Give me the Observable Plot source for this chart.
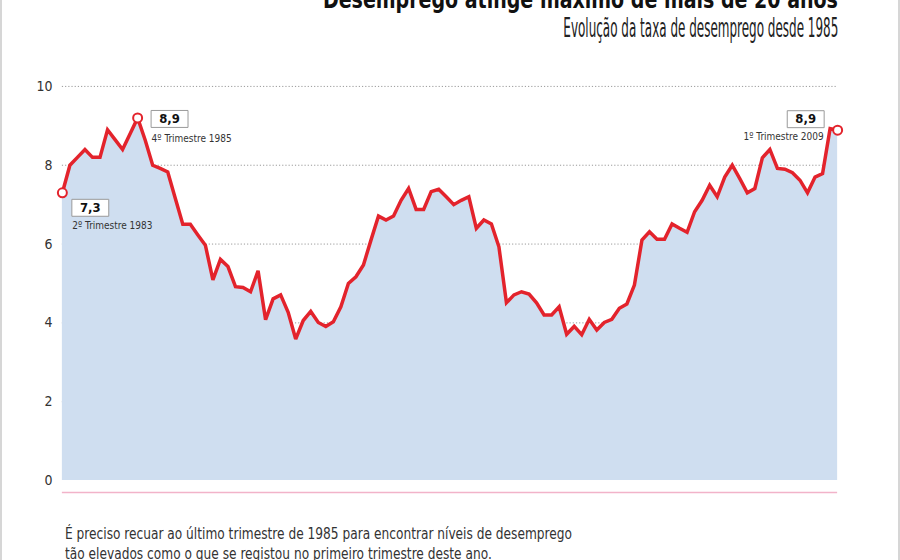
<!DOCTYPE html>
<html>
<head>
<meta charset="utf-8">
<script src="https://cdn.jsdelivr.net/npm/d3@7"></script>
<script src="https://cdn.jsdelivr.net/npm/@observablehq/plot@0.6"></script>
<style>
  html, body { margin: 0; padding: 0; background: #fff; }
  #page { position: relative; width: 900px; height: 560px; overflow: hidden; box-sizing: border-box;
          border-left: 2px solid #d6d6d6; border-right: 2px solid #d6d6d6; }
  .txt { position: absolute; white-space: nowrap; line-height: 1;
         font-family: 'Liberation Sans Narrow', 'DejaVu Sans Condensed', 'Roboto Condensed', sans-serif;
         font-stretch: condensed; }
  #title { right: 60px; top: -12px; font-size: 24px; font-weight: bold; color: #111; transform-origin: right top; }
  #subtitle { right: 60px; top: 14px; font-size: 27px; font-weight: normal; color: #222; transform-origin: right top; }
  .cap { left: 63px; font-size: 15px; color: #333; transform-origin: left top; }
  #cap1 { top: 527px; }
  #cap2 { top: 547px; }
  #chart { position: absolute; left: -2px; top: 50px; }
</style>
</head>
<body>
<div id="page">
  <div id="title" class="txt">Desemprego atinge máximo de mais de 20 anos</div>
  <div id="subtitle" class="txt">Evolução da taxa de desemprego desde 1985</div>
  <div id="chart"></div>
  <div id="cap1" class="txt cap">É preciso recuar ao último trimestre de 1985 para encontrar níveis de desemprego</div>
  <div id="cap2" class="txt cap">tão elevados como o que se registou no primeiro trimestre deste ano.</div>
</div>
<script>
// Quarterly unemployment rate (%), from 2º trimestre 1983 to 1º trimestre 2009
const startYear = 1983;
const startQuarter = 2;
const rate = [
  7.3, 8.0, 8.2, 8.4, 8.2, 8.2, 8.9, 8.65, 8.4, 8.8,
  9.2, 8.64, 8.0, 7.92, 7.83, 7.16, 6.5, 6.5, 6.23, 5.97,
  5.09, 5.61, 5.43, 4.92, 4.9, 4.79, 5.32, 4.08, 4.61, 4.71,
  4.27, 3.59, 4.06, 4.29, 4.01, 3.91, 4.03, 4.41, 5.0, 5.17,
  5.47, 6.1, 6.71, 6.61, 6.71, 7.11, 7.41, 6.88, 6.88, 7.33,
  7.39, 7.2, 7.0, 7.11, 7.2, 6.4, 6.61, 6.51, 5.93, 4.51,
  4.71, 4.79, 4.73, 4.51, 4.2, 4.2, 4.41, 3.71, 3.91, 3.7,
  4.09, 3.82, 4.01, 4.09, 4.37, 4.48, 4.96, 6.1, 6.31, 6.12,
  6.12, 6.51, 6.4, 6.3, 6.82, 7.11, 7.49, 7.2, 7.7, 8.0,
  7.66, 7.3, 7.41, 8.19, 8.4, 7.92, 7.9, 7.81, 7.62, 7.3,
  7.7, 7.79, 8.93, 8.89
];
const yTicks = [0, 2, 4, 6, 8, 10];
// Annotated points
const annotIndex = [0, 10, 103];
const annotValue = ["7,3", "8,9", "8,9"];
const annotPeriod = ["2º Trimestre 1983", "4º Trimestre 1985", "1º Trimestre 2009"];

const data = rate.map((v, i) => {
  const q = startQuarter - 1 + i;
  return { i, v, year: startYear + Math.floor(q / 4), quarter: (q % 4) + 1 };
});

// styling offsets for the annotation boxes / labels (pixels)
const annotStyle = [
  { bdx: 28, bdy: 15, ldx: 10, ldy: 33, anchor: "start" },
  { bdx: 32, bdy: 1, ldx: 14, ldy: 21, anchor: "start" },
  { bdx: -32, bdy: -11, ldx: -14, ldy: 7, anchor: "end" }
];

const boxSymbol = { draw(ctx) { ctx.rect(-18.5, -8.5, 37, 17); } };

const font = "'Liberation Sans Narrow', 'DejaVu Sans Condensed', 'Roboto Condensed', sans-serif";
const red = "#e3232c";

const annotMarks = [];
annotIndex.forEach((idx, k) => {
  const s = annotStyle[k];
  const d = [{ i: idx, v: rate[idx], label: annotValue[k], period: annotPeriod[k] }];
  annotMarks.push(
    Plot.dot(d, { x: "i", y: "v", symbol: boxSymbol, r: 5, dx: s.bdx, dy: s.bdy, fill: "#fff", stroke: "#9a9a9a", strokeWidth: 1 }),
    Plot.text(d, { x: "i", y: "v", text: "label", dx: s.bdx, dy: s.bdy, fontWeight: "bold", fontSize: 13, fill: "#111" }),
    Plot.text(d, { x: "i", y: "v", text: "period", dx: s.ldx, dy: s.ldy, textAnchor: s.anchor, fontSize: 10, fill: "#333" })
  );
});

const chart = Plot.plot({
  width: 900,
  height: 460,
  marginLeft: 62,
  marginRight: 61,
  marginTop: 36,
  marginBottom: 29,
  x: { domain: [0, rate.length - 1], axis: null },
  y: { domain: [0, 10], label: null },
  style: { fontFamily: font, background: "transparent", color: "#333", overflow: "visible" },
  marks: [
    Plot.gridY(yTicks.filter(t => t > 0), { stroke: "#9a9a9a", strokeOpacity: 1, strokeDasharray: "1.2,2" }),
    Plot.axisY(yTicks, { tickSize: 0, tickPadding: 10, fontSize: 14, fill: "#333", label: null, tickFormat: d => String(d) }),
    Plot.areaY(data, { x: "i", y: "v", fill: "#cfdef0" }),
    Plot.ruleY([0], { dy: 12, stroke: "#f2b3c9", strokeWidth: 1.5 }),
    Plot.lineY(data, { x: "i", y: "v", stroke: red, strokeWidth: 3.5, strokeLinejoin: "miter", strokeMiterlimit: 3 }),
    Plot.dot(annotIndex.map(idx => data[idx]), { x: "i", y: "v", r: 4.5, fill: "#fff", stroke: red, strokeWidth: 2 }),
    ...annotMarks
  ]
});
document.getElementById("chart").appendChild(chart);

// condense headline texts to the reference widths
function fit(id, target) {
  const el = document.getElementById(id);
  const w = el.getBoundingClientRect().width;
  const s = target / w;
  el.style.transform = "scaleX(" + s + ")";
  return s;
}
fit("title", 515);
fit("subtitle", 275);
const cs = fit("cap1", 507);
document.getElementById("cap2").style.transform = "scaleX(" + cs + ")";
</script>
</body>
</html>
